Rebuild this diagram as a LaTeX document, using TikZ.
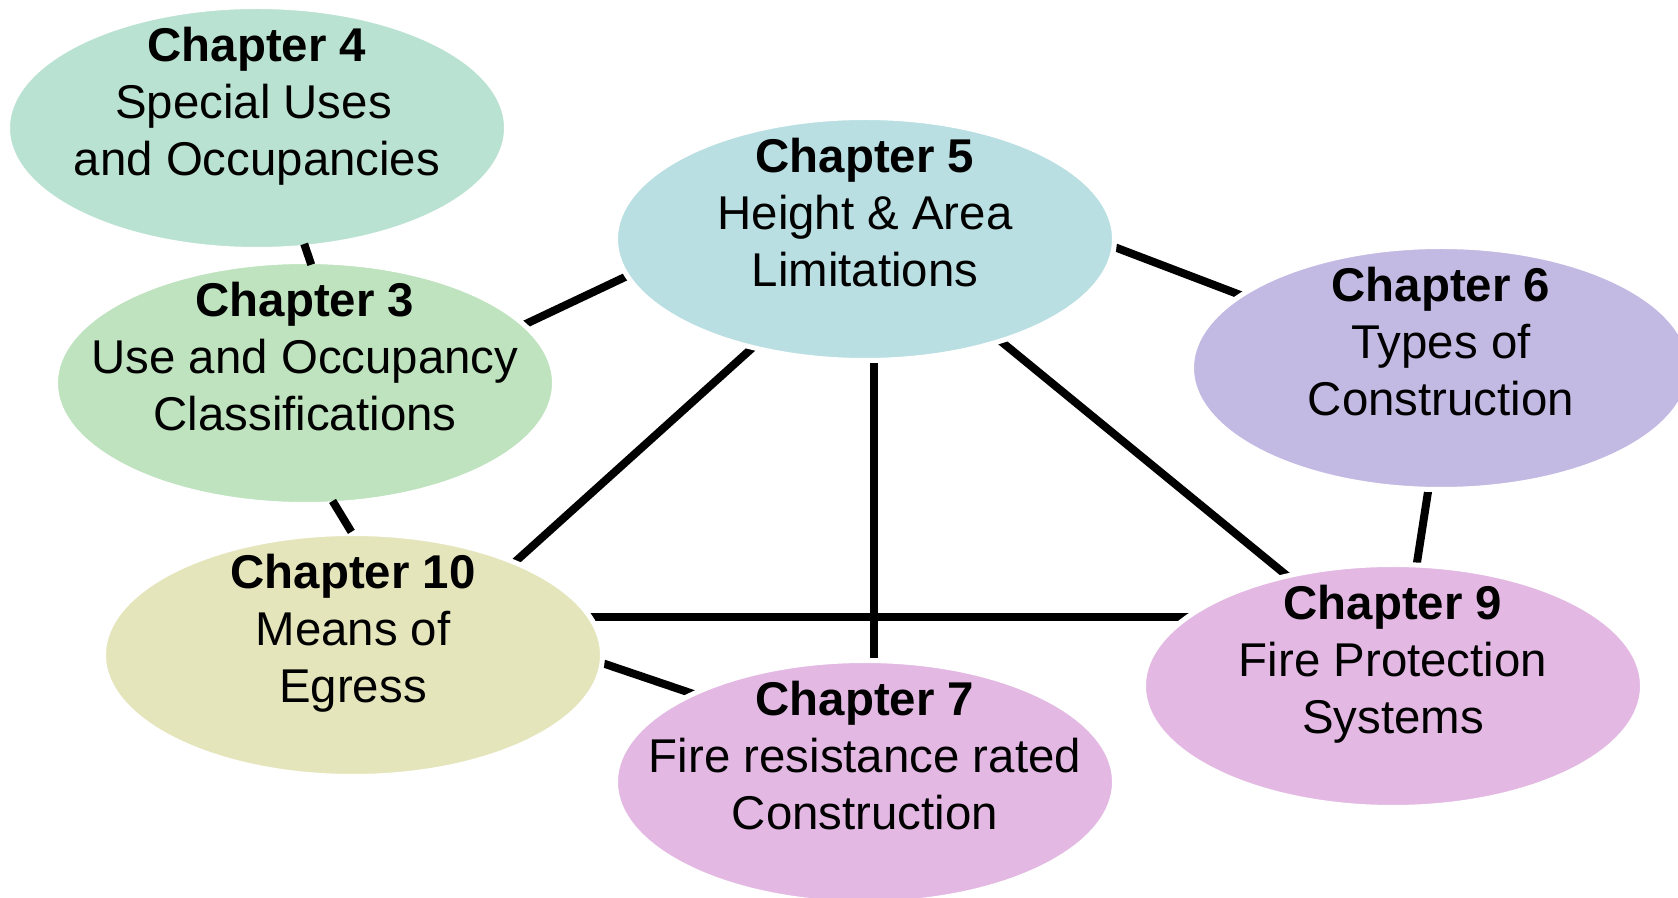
\documentclass[tikz,border=0pt]{standalone}
\usepackage{fontspec}
\setmainfont{Liberation Sans}
\usetikzlibrary{shapes.geometric,backgrounds}
\definecolor{cfour}{HTML}{BAE2D2}
\definecolor{cthree}{HTML}{BEE3BE}
\definecolor{cfive}{HTML}{B9DFE3}
\definecolor{csix}{HTML}{C3BAE3}
\definecolor{cten}{HTML}{E5E5BC}
\definecolor{cpink}{HTML}{E3B9E3}
\tikzset{
  bubble/.style={ellipse, draw=white, line width=2.5pt, minimum width=249.5pt, minimum height=121.5pt, inner sep=0pt},
  btext/.style={align=center, font=\fontsize{23.7}{28.5}\selectfont, inner sep=0pt},
  link/.style={line width=4pt, draw=black, shorten <=-10pt, shorten >=-10pt},
  touchlink/.style={line width=4pt, draw=black}
}
\newcommand\bubbletext[3]{\strut\textbf{#1}\\\strut #2\\\strut #3}
\begin{document}
\begin{tikzpicture}[x=0.5pt,y=-0.5pt]
\useasboundingbox (0,0) rectangle (1678,898);
% ellipses
\node[bubble, fill=cfour]  (ch4)  at (257,128) {};
\node[bubble, fill=cthree] (ch3)  at (305,383) {};
\node[bubble, fill=cfive]  (ch5)  at (865,239) {};
\node[bubble, fill=csix]   (ch6)  at (1441,368) {};
\node[bubble, fill=cten]   (ch10) at (353,655) {};
\node[bubble, fill=cpink]  (ch7)  at (865,782) {};
\node[bubble, fill=cpink]  (ch9)  at (1393,686) {};
% texts
\node[btext] (ch4t)  at ([yshift=10.5pt]ch4.center)  {\bubbletext{Chapter 4}{Special Uses\kern3.5pt}{and Occupancies}};
\node[btext] (ch3t)  at ([yshift=10.5pt]ch3.center)  {\bubbletext{Chapter 3}{Use and Occupancy}{Classifications}};
\node[btext] (ch5t)  at ([yshift=10.5pt]ch5.center)  {\bubbletext{Chapter 5}{Height \& Area}{Limitations}};
\node[btext] (ch6t)  at ([yshift=10.5pt]ch6.center)  {\bubbletext{Chapter 6}{Types of}{Construction}};
\node[btext] (ch10t) at ([yshift=10.5pt]ch10.center) {\bubbletext{Chapter 10}{Means of}{Egress}};
\node[btext] (ch7t)  at ([yshift=10.5pt]ch7.center)  {\bubbletext{Chapter 7}{Fire resistance rated}{Construction}};
\node[btext] (ch9t)  at ([yshift=10.5pt]ch9.center)  {\bubbletext{Chapter 9}{Fire Protection}{Systems}};
% connectors touching the ellipses
\draw[touchlink, shorten <=-3pt, shorten >=-3pt] (ch4.-68.6) -- (ch3.88.5);
\draw[touchlink, shorten <=-3pt, shorten >=-0.5pt] (ch3.-76) -- (ch10.91.4);
% connectors behind the ellipses
\begin{pgfonlayer}{background}
\draw[link] (ch3.15) -- (ch5.-171.2);
\draw[link] (ch5.-2.1) -- (ch6.160.2);
\draw[link] (ch10.30) -- (ch5.-136.5);
\draw[link] (ch5.-86.6) -- (ch5.-86.6 |- ch7.north);
\draw[link] (ch5.-37.5) -- (ch9.134.5);
\draw[link] (ch6.-96.1) -- (ch9.79.8);
\draw[link] (ch10.9.5) -- (ch10.9.5 -| ch9.160.6);
\draw[link] (ch10.-2.7) -- (ch7.153.8);
\end{pgfonlayer}
\end{tikzpicture}
\end{document}
